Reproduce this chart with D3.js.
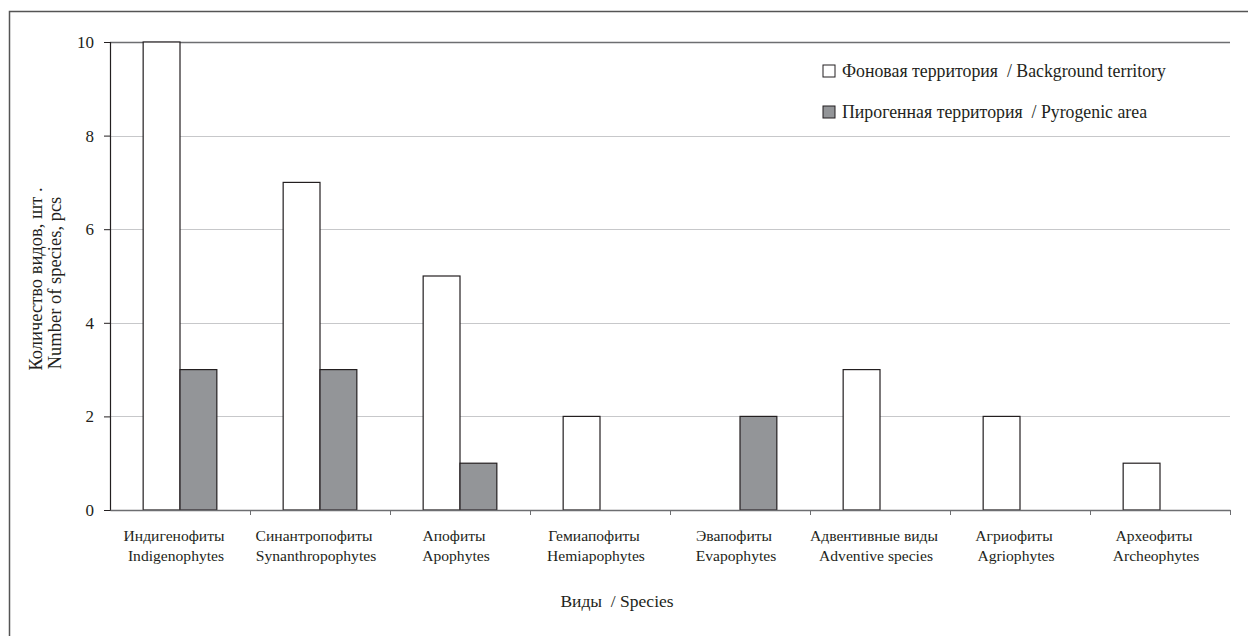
<!DOCTYPE html>
<html>
<head>
	<meta charset="utf-8">
	<script src="https://d3js.org/d3.v7.min.js"></script>
	<style>
		body { margin: 0; background: #fff; }
	</style>
</head>
<body>
	<script>
		// categories: two lines per label
		var categoriesRu = ["Индигенофиты", "Синантропофиты", "Апофиты", "Гемиапофиты", "Эвапофиты", "Адвентивные виды", "Агриофиты", "Археофиты"];
		var categoriesEn = ["Indigenophytes", "Synanthropophytes", "Apophytes", "Hemiapophytes", "Evapophytes", "Adventive species", "Agriophytes", "Archeophytes"];
		var seriesNames = ["Фоновая территория  / Background territory", "Пирогенная территория  / Pyrogenic area"];
		var background = [10, 7, 5, 2, 0, 3, 2, 1];
		var pyrogenic = [3, 3, 1, 0, 2, 0, 0, 0];
		var yTicks = [0, 2, 4, 6, 8, 10];

		var colors = ["#ffffff", "#939598"];
		var serif = "'Liberation Serif', 'Times New Roman', serif";

		var svgWidth = 1248,
			svgHeight = 636,
			margin = {top: 42, right: 18, bottom: 126, left: 110},
			width = svgWidth - margin.left - margin.right,
			height = svgHeight - margin.top - margin.bottom;

		var svg = d3.select("body")
			.append("svg")
			.attr("width", svgWidth)
			.attr("height", svgHeight)
			.style("font-family", serif);

		// outer frame (runs off the right and bottom of the picture)
		svg.append("rect")
			.attr("x", 9.5)
			.attr("y", 11.5)
			.attr("width", svgWidth + 20)
			.attr("height", svgHeight + 20)
			.attr("fill", "none")
			.attr("stroke", "#555")
			.attr("stroke-width", 1.5);

		var g = svg.append("g")
			.attr("transform", "translate(" + margin.left + "," + margin.top + ")");

		var data = categoriesRu.map(function(c, i) {
			return {ru: c, en: categoriesEn[i], values: [background[i], pyrogenic[i]]};
		});

		var x0 = d3.scaleBand()
			.domain(d3.range(data.length))
			.range([0, width])
			.padding(0);

		var x1 = d3.scaleBand()
			.domain([0, 1])
			.range([0, x0.bandwidth()])
			.paddingInner(0)
			.paddingOuter(0.9);

		var y = d3.scaleLinear()
			.domain([0, 10])
			.range([height, 0]);

		// gridlines
		g.append("g")
			.selectAll("line")
			.data(yTicks.filter(function(d) { return d > 0; }))
			.enter().append("line")
			.attr("x1", 0)
			.attr("x2", width)
			.attr("y1", function(d) { return Math.round(y(d)) + 0.5; })
			.attr("y2", function(d) { return Math.round(y(d)) + 0.5; })
			.attr("stroke", function(d) { return d === 10 ? "#6d6e71" : "#c7c8ca"; })
			.attr("stroke-width", function(d) { return d === 10 ? 1.5 : 1; });

		// bars
		var groups = g.append("g")
			.selectAll("g")
			.data(data)
			.enter().append("g")
			.attr("transform", function(d, i) { return "translate(" + x0(i) + ",0)"; });

		groups.selectAll("rect")
			.data(function(d) { return d.values.map(function(v, k) { return {k: k, v: v}; }); })
			.enter().append("rect")
			.filter(function(d) { return d.v > 0; })
			.attr("x", function(d) { return x1(d.k); })
			.attr("y", function(d) { return y(d.v); })
			.attr("width", x1.bandwidth())
			.attr("height", function(d) { return height - y(d.v); })
			.attr("fill", function(d) { return colors[d.k]; })
			.attr("stroke", "#231f20")
			.attr("stroke-width", 1.2);

		// y axis
		var yAxis = g.append("g")
			.call(d3.axisLeft(y).tickValues(yTicks).tickSize(6).tickPadding(10).tickFormat(d3.format("d")));
		yAxis.attr("font-family", null);
		yAxis.select(".domain").attr("stroke", "#231f20").attr("stroke-width", 1.2);
		yAxis.selectAll(".tick line").attr("stroke", "#231f20");
		yAxis.selectAll(".tick text")
			.style("font-family", serif)
			.attr("font-size", 17)
			.attr("fill", "#231f20");

		// x axis with ticks at category boundaries
		var xb = d3.scaleLinear().domain([0, data.length]).range([0, width]);
		var xAxis = g.append("g")
			.attr("transform", "translate(0," + height + ")")
			.call(d3.axisBottom(xb).ticks(data.length).tickSize(5).tickSizeOuter(0).tickFormat(""));
		xAxis.select(".domain").attr("stroke", "#6d6e71").attr("stroke-width", 1.5);
		xAxis.selectAll(".tick line").attr("stroke", "#6d6e71");
		xAxis.selectAll(".tick").filter(function(d) { return d === 0; }).remove();

		// category labels
		var labels = g.append("g")
			.selectAll("text")
			.data(data)
			.enter().append("text")
			.attr("text-anchor", "middle")
			.attr("font-size", 15.6)
			.attr("fill", "#231f20")
			.style("font-family", serif)
			.attr("transform", function(d, i) { return "translate(" + (x0(i) + x0.bandwidth() / 2 - 4) + "," + (height + 31) + ")"; });
		labels.append("tspan").attr("x", -2).attr("y", 0).text(function(d) { return d.ru; });
		labels.append("tspan").attr("x", 0).attr("y", 20).text(function(d) { return d.en; });

		// x axis title
		svg.append("text")
			.attr("x", 617)
			.attr("y", 607)
			.attr("text-anchor", "middle")
			.attr("font-size", 17.5)
			.attr("fill", "#231f20")
			.style("font-family", serif)
			.style("white-space", "pre")
			.text("Виды  / Species");

		// y axis title
		var yTitle = svg.append("text")
			.attr("text-anchor", "middle")
			.attr("font-size", 18.5)
			.attr("fill", "#231f20")
			.style("font-family", serif)
			.attr("transform", "translate(42,279) rotate(-90)");
		yTitle.append("tspan").attr("x", 0).attr("y", 0).text("Количество видов, шт .");
		yTitle.append("tspan").attr("x", -4).attr("y", 19).text("Number of species, pcs");

		// legend
		var legend = svg.append("g")
			.selectAll("g")
			.data(seriesNames)
			.enter().append("g")
			.attr("transform", function(d, i) { return "translate(823," + (65 + i * 41) + ")"; });
		legend.append("rect")
			.attr("width", 12)
			.attr("height", 12)
			.attr("fill", function(d, i) { return colors[i]; })
			.attr("stroke", "#231f20")
			.attr("stroke-width", 1);
		legend.append("text")
			.attr("x", 19)
			.attr("y", 11.5)
			.attr("font-size", 17.8)
			.attr("fill", "#231f20")
			.style("font-family", serif)
			.style("white-space", "pre")
			.text(function(d) { return d; });
	</script>
</body>
</html>
